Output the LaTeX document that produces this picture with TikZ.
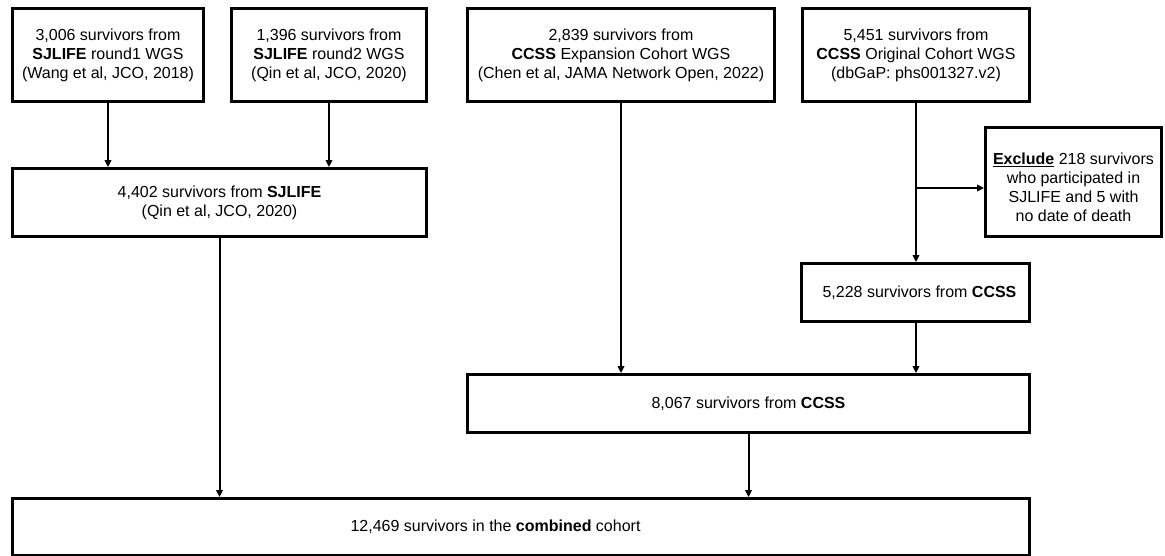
\documentclass[tikz,border=0pt]{standalone}
\usepackage{fontspec}
\setmainfont{Liberation Sans}
\usetikzlibrary{arrows.meta, positioning}

\begin{document}
\begin{tikzpicture}[x=1pt, y=-1pt,
    box/.style={draw, line width=2.8pt, align=center, inner sep=0pt,
                font=\fontsize{16}{19}\selectfont},
    flow/.style={line width=2pt, -{Triangle[length=7pt, width=6.5pt]}}]
    \useasboundingbox (0,0) rectangle (1165,555);

    % Sources (WGS)
    \node[box, minimum width=191, minimum height=93] (sjA) at (108,55)
        {3,006 survivors from\\\textbf{SJLIFE} round1 WGS\\(Wang et al, JCO, 2018)};
    \node[box, minimum width=195, minimum height=93] (sjB) at (329,55)
        {1,396 survivors from\\\textbf{SJLIFE} round2 WGS\\(Qin et al, JCO, 2020)};
    \node[box, minimum width=307, minimum height=93] (ccssExp) at (621,55)
        {2,839 survivors from\\\textbf{CCSS} Expansion Cohort WGS\\(Chen et al, JAMA Network Open, 2022)};
    \node[box, minimum width=227, minimum height=93] (ccssOrig) at (916,55)
        {5,451 survivors from\\\textbf{CCSS} Original Cohort WGS\\(dbGaP: phs001327.v2)};

    % Intermediate cohorts
    \node[box, minimum width=414, minimum height=68] (sjlife) at (219.5,202.5)
        {4,402 survivors from \textbf{SJLIFE}\\(Qin et al, JCO, 2020)};
    \node[box, minimum width=176, minimum height=109] (excl) at (1073.5,182)
        {\raisebox{0pt}[\dimexpr\height+14pt\relax]{\begin{tabular}{@{}c@{}}
         \underline{\textbf{Exclude}} 218 survivors\\who participated in\\
         SJLIFE and 5 with\\no date of death\end{tabular}}};
    \node[box, minimum width=228, minimum height=58] (ccssOk) at (915.5,292.5)
        {\hspace*{8pt}5,228 survivors from \textbf{CCSS}};
    \node[box, minimum width=562, minimum height=58] (ccss) at (748.5,403.5)
        {8,067 survivors from \textbf{CCSS}};

    % Final cohort
    \node[box, minimum width=1017, minimum height=57] (comb) at (521,527)
        {\hspace*{-51pt}12,469 survivors in the \textbf{combined} cohort};

    % Connectors
    \coordinate (split) at (ccssOrig.south |- 0,188);
    \draw[flow] (sjA.south) -- (sjA.south |- sjlife.north);
    \draw[flow] (sjB.south) -- (sjB.south |- sjlife.north);
    \draw[flow] (ccssExp.south) -- (ccssExp.south |- ccss.north);
    \draw[flow] (ccssOrig.south) -- (ccssOrig.south |- ccssOk.north);
    \draw[flow] (split) -- (excl.west |- split);
    \draw[flow] (ccssOrig.south |- ccssOk.south) -- (ccssOrig.south |- ccss.north);
    \draw[flow] (sjlife.south) -- (sjlife.south |- comb.north);
    \draw[flow] (ccss.south) -- (ccss.south |- comb.north);
\end{tikzpicture}
\end{document}
